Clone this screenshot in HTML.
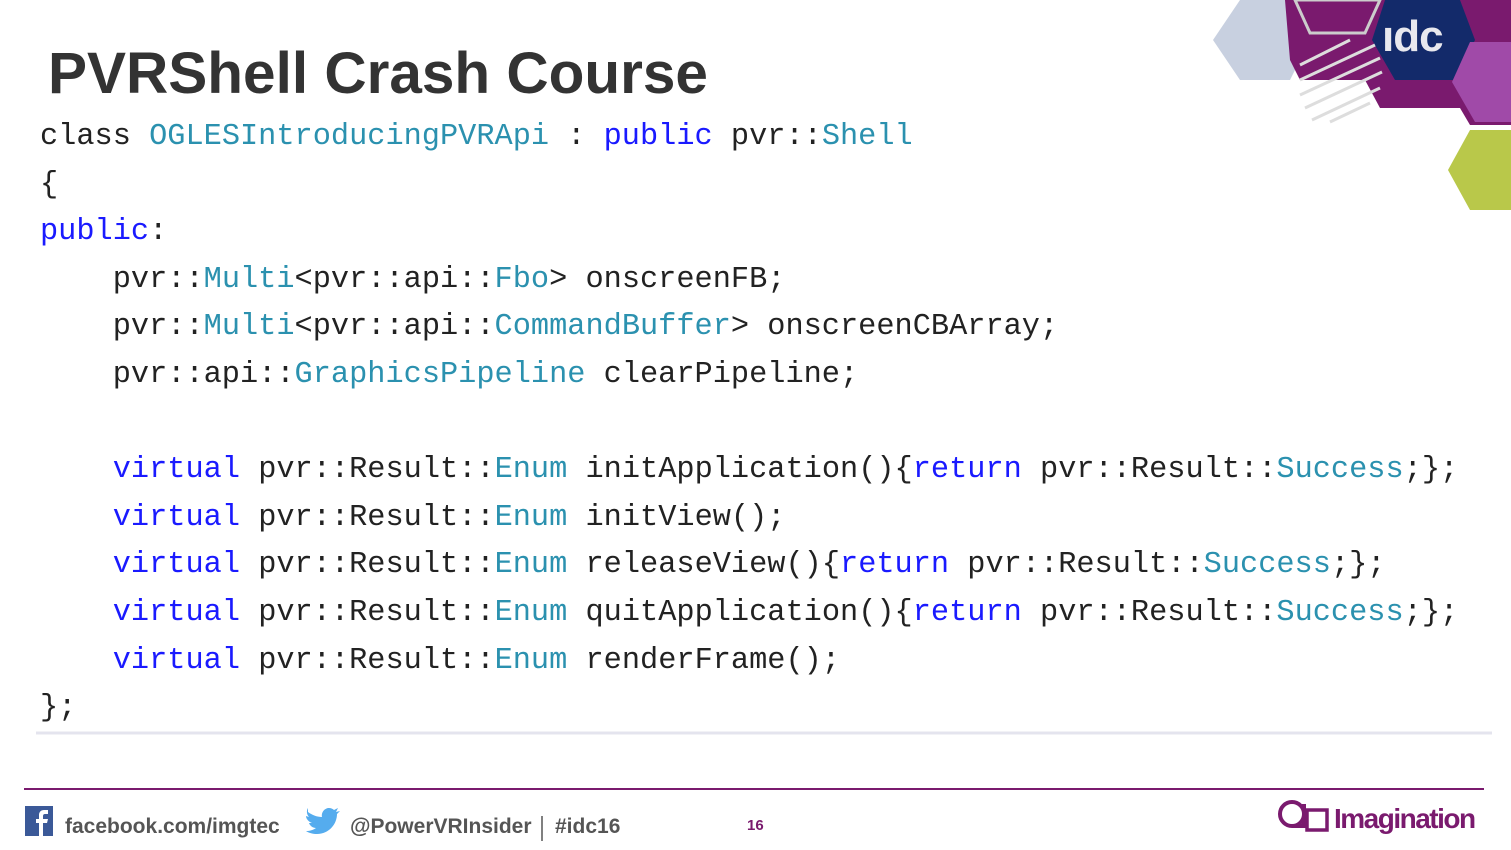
<!DOCTYPE html>
<html><head><meta charset="utf-8"><style>
body{margin:0;width:1511px;height:850px;background:#fff;position:relative;overflow:hidden;font-family:"Liberation Sans",sans-serif}
.t{position:absolute;left:48px;top:40px;font-size:58.5px;font-weight:bold;color:#333}
.code{position:absolute;left:40px;top:114px;font-family:"Liberation Mono","DejaVu Sans Mono",monospace;font-size:30.3px;line-height:47.6px;color:#222;white-space:pre}
.k{color:#1a1aff}.y{color:#2b91af}
.ft{position:absolute;font-size:21px;font-weight:bold;color:#555}
</style></head><body>
<svg width="1511" height="850" style="position:absolute;left:0;top:0">
<polygon points="1240,0 1290,0 1310,40 1290,80 1240,80 1213,40" fill="#c8d0e0"/>
<polygon points="1285,0 1511,0 1511,125 1470,125 1460,108 1380,108 1365,80 1300,80 1290,60" fill="#7a1a6e"/>
<polygon points="1295,0 1380,0 1365,33 1310,33" fill="none" stroke="#ccc" stroke-width="3"/>
<polygon points="1385,0 1460,0 1475,40 1455,80 1395,80 1372,40" fill="#132a6a"/>
<polygon points="1470,42 1511,42 1511,122 1475,122 1452,82" fill="#a04aa8"/>
<g stroke="#ddd" stroke-width="3">
<line x1="1300" y1="65" x2="1350" y2="40"/><line x1="1300" y1="80" x2="1375" y2="45"/><line x1="1300" y1="95" x2="1380" y2="58"/><line x1="1305" y1="108" x2="1382" y2="72"/><line x1="1312" y1="120" x2="1380" y2="88"/><line x1="1330" y1="122" x2="1370" y2="103"/>
</g>
<polygon points="1470,130 1511,130 1511,210 1470,210 1448,170" fill="#b9c84a"/>
<line x1="36" y1="733" x2="1492" y2="733" stroke="#e4e4ee" stroke-width="3"/>
<line x1="24" y1="789" x2="1484" y2="789" stroke="#7a1a6e" stroke-width="2"/>
<rect x="25" y="806" width="28" height="30" fill="#3b5998"/>
<path d="M43 836v-13h4l1-4h-5v-3c0-1 .5-2 2-2h3v-4h-4c-3 0-5 2-5 5v4h-3v4h3v13z" fill="#fff"/>
<path d="M308 812c4 3 9 5 14 5-1-5 3-9 7-9 2 0 4 1 5 2l4-2-2 4 4-1-3 3c0 10-8 20-20 20-4 0-8-1-11-3 4 0 7-1 10-3-3 0-6-2-7-5h3c-3-1-6-4-6-7l3 1c-2-2-3-6-1-9z" fill="#55acee"/>
<line x1="542" y1="816" x2="542" y2="841" stroke="#555" stroke-width="1.5"/>
<circle cx="1292" cy="814" r="12" fill="none" stroke="#7a1a6e" stroke-width="4"/>
<path d="M1292 826h12v-22" fill="none" stroke="#7a1a6e" stroke-width="4"/>
<rect x="1307" y="810" width="20" height="20" fill="none" stroke="#7a1a6e" stroke-width="3.5"/>
</svg>
<div style="position:absolute;left:1382px;top:12px;font-size:44px;font-weight:bold;color:#e8e8ee;letter-spacing:-1px">ıdc</div>
<div class="t">PVRShell Crash Course</div>
<div class="code">class <span class="y">OGLESIntroducingPVRApi</span> : <span class="k">public</span> pvr::<span class="y">Shell</span>
{
<span class="k">public</span>:
    pvr::<span class="y">Multi</span>&lt;pvr::api::<span class="y">Fbo</span>&gt; onscreenFB;
    pvr::<span class="y">Multi</span>&lt;pvr::api::<span class="y">CommandBuffer</span>&gt; onscreenCBArray;
    pvr::api::<span class="y">GraphicsPipeline</span> clearPipeline;

    <span class="k">virtual</span> pvr::Result::<span class="y">Enum</span> initApplication(){<span class="k">return</span> pvr::Result::<span class="y">Success</span>;};
    <span class="k">virtual</span> pvr::Result::<span class="y">Enum</span> initView();
    <span class="k">virtual</span> pvr::Result::<span class="y">Enum</span> releaseView(){<span class="k">return</span> pvr::Result::<span class="y">Success</span>;};
    <span class="k">virtual</span> pvr::Result::<span class="y">Enum</span> quitApplication(){<span class="k">return</span> pvr::Result::<span class="y">Success</span>;};
    <span class="k">virtual</span> pvr::Result::<span class="y">Enum</span> renderFrame();
};</div>
<div class="ft" style="left:65px;top:815px">facebook.com/imgtec</div>
<div class="ft" style="left:350px;top:815px">@PowerVRInsider</div>
<div class="ft" style="left:555px;top:815px">#idc16</div>
<div style="position:absolute;left:747px;top:817px;font-size:15px;font-weight:bold;color:#7a1a6e">16</div>
<div style="position:absolute;left:1334px;top:803px;font-size:28px;font-weight:bold;color:#7a1a6e;letter-spacing:-1.5px">Imagination</div>
</body></html>
